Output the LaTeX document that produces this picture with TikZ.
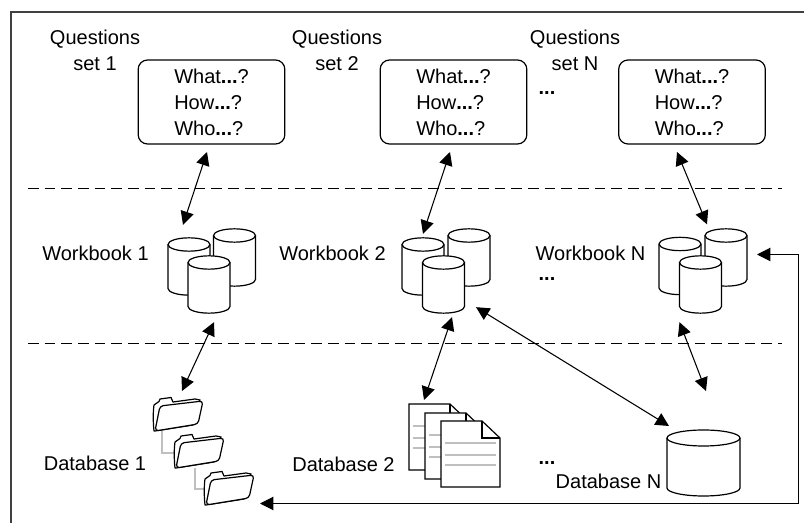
\documentclass[tikz,border=0pt]{standalone}
\usepackage{fontspec}
\setmainfont{Liberation Sans}
\usetikzlibrary{arrows.meta}

\tikzset{
    label/.style={inner sep=0pt, font=\fontsize{15}{19.5}\selectfont, align=center},
    qbox/.style={draw, line width=0.9pt, rounded corners=7pt, inner sep=0pt, outer sep=0pt,
        minimum width=110pt, minimum height=63pt, align=left, font=\fontsize{15}{19.5}\selectfont},
    can/.style n args={3}{inner sep=0pt, outer sep=0pt, minimum width=#1, minimum height=#2,
        append after command={\pgfextra{
            \draw[fill=white, line width=0.9pt] ([yshift=-#3]\tikzlastnode.north west)
                arc[start angle=180, end angle=0, x radius=#1/2, y radius=#3]
                -- ([yshift=#3]\tikzlastnode.south east)
                arc[start angle=0, end angle=-180, x radius=#1/2, y radius=#3] -- cycle;
            \draw[line width=0.9pt] ([yshift=-#3]\tikzlastnode.north west)
                arc[start angle=180, end angle=360, x radius=#1/2, y radius=#3];
        }}},
    wbcyl/.style={can={31.5pt}{43pt}{5pt}},
    dbcyl/.style={can={54.75pt}{49.5pt}{6pt}},
    link/.style={line width=0.8pt, {Triangle[length=10pt,width=10pt]}-{Triangle[length=10pt,width=10pt]}},
    tree/.style={gray!50, line width=2pt},
    divider/.style={line width=0.8pt, dash pattern=on 8pt off 4.5pt},
    pics/folder/.style={code={
        \draw[fill=white, line width=0.9pt, line join=round] (2,34) -- (1,34) .. controls (0,25) and (0,15) .. (1,8)
            -- (6,4.5) -- (7,2) -- (18,0.5) -- (20,5) -- (42,2) -- (47,3) -- (40,28) -- cycle;
        \draw[fill=white, line width=0.9pt, rounded corners=2.5pt] (2,34) -- (7,9) -- (50,4) -- (45,27) -- cycle;
    }},
    pics/sheet/.style={code={
        \draw[fill=white, line width=0.9pt] (0,0) -- (41,0) -- (59,17) -- (59,66) -- (0,66) -- cycle;
        \draw[line width=0.9pt] (41,0) -- (41,17) -- (59,17);
        \foreach \ly in {22,34,44}
            \draw[gray!50, line width=1.5pt] (4,\ly) -- (55,\ly);
    }},
}

\newcommand{\ddd}{\textbf{...}}

\begin{document}
\begin{tikzpicture}[x=0.75pt,y=-0.75pt]

    \useasboundingbox (0,0) rectangle (804,523);

    % Outer frame, open on the sides taken by the feedback line
    \draw[black!75, line width=1.2pt] (804,12) -- (11,12) -- (11,523);

    % Section dividers
    \draw[divider] (28,188.5) -- (782,188.5);
    \draw[divider] (28,343.5) -- (782,343.5);

    % Question sets
    \node[label] (qlabel1) at (95,50) {Questions\\set 1};
    \node[label] (qlabel2) at (337,50) {Questions\\set 2};
    \node[label] (qlabelN) at (575,50) {Questions\\set N};

    \node[qbox] (qbox1) at (211.5,102) {What\ddd?\\How\ddd?\\Who\ddd?};
    \node[qbox] (qbox2) at (453.5,102) {What\ddd?\\How\ddd?\\Who\ddd?};
    \node[qbox] (qboxN) at (692,102) {What\ddd?\\How\ddd?\\Who\ddd?};
    \node[label] (qdots) at (547,93) {\ddd};

    % Workbooks
    \node[label] (wblabel1) at (95.5,253) {Workbook 1};
    \node[label] (wblabel2) at (332.5,253) {Workbook 2};
    \node[label] (wblabelN) at (590.5,253) {Workbook N};
    \node[label] (wbdots) at (547,279) {\ddd};

    \node[wbcyl] (wb1b) at (234.5,257.5) {};
    \node[wbcyl] (wb1a) at (189,266.5) {};
    \node[wbcyl] (wb1c) at (209,284.5) {};

    \node[wbcyl] (wb2b) at (469,257.5) {};
    \node[wbcyl] (wb2a) at (423,266.5) {};
    \node[wbcyl] (wb2c) at (443.5,284.5) {};

    \node[wbcyl] (wbNb) at (726,257.5) {};
    \node[wbcyl] (wbNa) at (680,266) {};
    \node[wbcyl] (wbNc) at (700.5,284.5) {};

    % Databases
    \node[label] (dblabel1) at (95,463) {Database 1};
    \node[label] (dblabel2) at (343.5,464) {Database 2};
    \node[label] (dblabelN) at (608.5,481) {Database N};
    \node[label] (dbdots) at (547,463) {\ddd};

    \draw[tree] (162,431) -- (162,453) -- (175,453);
    \draw[tree] (195,468) -- (195,489) -- (205,489);

    \coordinate (folder1) at (153,397);
    \coordinate (folder2) at (174,434);
    \coordinate (folder3) at (204,471);
    \pic at (folder1) {folder};
    \pic at (folder2) {folder};
    \pic at (folder3) {folder};

    \coordinate (sheet1) at (409,404);
    \coordinate (sheet2) at (425,413);
    \coordinate (sheet3) at (441,421);
    \pic at (sheet1) {sheet};
    \pic at (sheet2) {sheet};
    \pic at (sheet3) {sheet};

    \node[dbcyl] (dbN) at (703.5,463) {};

    % Links between the levels
    \draw[link] ([shift={(-4.5,8)}]qbox1.south) -- ([shift={(-6,-13)}]wb1a.north);
    \draw[link] ([shift={(-3.5,8)}]qbox2.south) -- ([shift={(0,-4)}]wb2a.north);
    \draw[link] ([shift={(-15,8)}]qboxN.south) -- ([shift={(27,-13)}]wbNa.north);
    \draw[link] ([shift={(5,9)}]wb1c.south) -- ([shift={(29,-6)}]folder1);
    \draw[link] ([shift={(8.5,4)}]wb2c.south) -- ([shift={(15,-4)}]sheet1);
    \draw[link] ([shift={(-21,9)}]wbNc.south) -- ([shift={(2.5,-39)}]dbN.north);
    \draw[link] ([shift={(32.5,-6)}]wb2c.south) -- ([shift={(-34.5,-4)}]dbN.north);

    % Feedback line round the right and bottom sides
    \draw[link] ([shift={(10,-3)}]wbNb.east) -- (798.5,254.5) -- (798.5,503.5) -- ([shift={(56,32.5)}]folder3);
\end{tikzpicture}
\end{document}
